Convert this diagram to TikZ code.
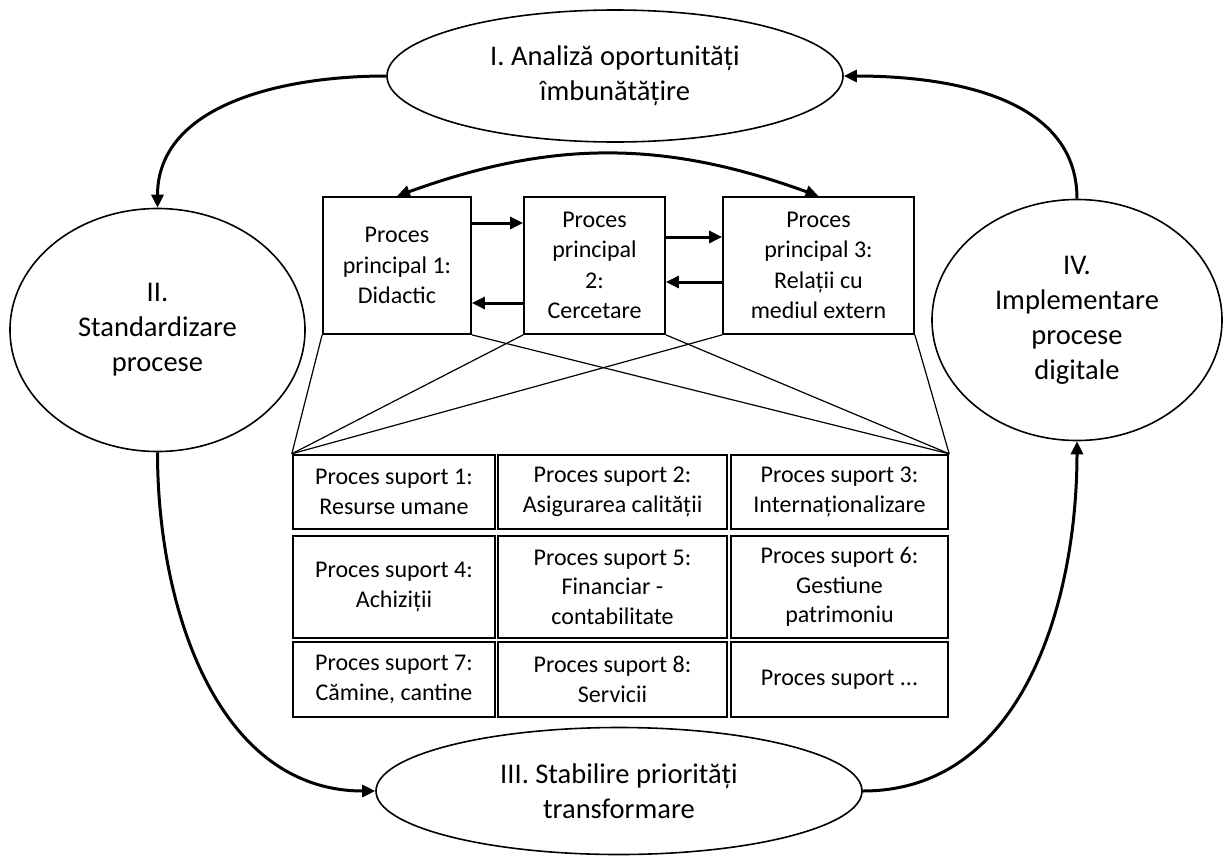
\documentclass[tikz,border=0pt]{standalone}
\usepackage{fontspec}
\setmainfont{Carlito}
\usetikzlibrary{shapes,arrows,positioning,calc,arrows.meta}

\begin{document}
\begin{tikzpicture}[x=1pt,y=1pt,
    phase/.style={draw,ellipse,line width=1.6pt,inner sep=0pt,align=center,font=\fontsize{28.5}{35}\selectfont},
    mainproc/.style={draw,rectangle,line width=1.8pt,inner sep=0pt,align=center,minimum height=137pt,font=\fontsize{24}{30.5}\selectfont},
    supproc/.style={draw,rectangle,line width=2.4pt,inner sep=0pt,align=center,font=\fontsize{24}{29.5}\selectfont},
    flow/.style={line width=3pt,-{Triangle[length=13pt,width=12pt]}},
    link/.style={line width=1.2pt}]

    \useasboundingbox (0,0) rectangle (1224,-857);

    % Phases of the cycle
    \node[phase,minimum width=456pt,minimum height=132pt] (ph1) at (615,-76) {I. Analiză oportunități\\îmbunătățire};
    \node[phase,minimum width=295pt,minimum height=243pt] (ph2) at (157.5,-330) {II.\\Standardizare\\procese};
    \node[phase,minimum width=486pt,minimum height=127pt] (ph3) at (619,-791) {III. Stabilire priorități\\transformare};
    \node[phase,minimum width=290pt,minimum height=241pt] (ph4) at (1077,-320) {IV.\\Implementare\\procese\\digitale};

    \draw[flow] (ph1.west) to[out=180,in=90] (ph2.north);
    \draw[flow] (ph2.south) to[out=-90,in=180] (ph3.west);
    \draw[flow] (ph3.east) to[out=0,in=-90] (ph4.south);
    \draw[flow] (ph4.north) to[out=90,in=0] (ph1.east);

    % Main processes
    \node[mainproc,minimum width=148pt] (pp1) at (397,-265.5) {Proces\\principal 1:\\Didactic};
    \node[mainproc,minimum width=141pt] (pp2) at (594.5,-265.5) {Proces\\principal\\2:\\Cercetare};
    \node[mainproc,minimum width=191pt] (pp3) at (818.5,-265.5) {Proces\\principal 3:\\Relații cu\\mediul extern};

    \draw[line width=3pt,{Triangle[length=13pt,width=12pt]}-{Triangle[length=13pt,width=12pt]}] (pp1.north) to[bend left=20] (pp3.north);
    \draw[flow] ([yshift=42.5pt]pp1.east) -- ([yshift=42.5pt]pp2.west);
    \draw[flow] ([yshift=-37.5pt]pp2.west) -- ([yshift=-37.5pt]pp1.east);
    \draw[flow] ([yshift=28.5pt]pp2.east) -- ([yshift=28.5pt]pp3.west);
    \draw[flow] ([yshift=-16.5pt]pp3.west) -- ([yshift=-16.5pt]pp2.east);

    % Support processes
    \node[supproc,minimum width=202pt,minimum height=74pt] (sp1) at (394,-492) {Proces suport 1:\\Resurse umane};
    \node[supproc,minimum width=229pt,minimum height=74pt] (sp2) at (612.5,-492) {Proces suport 2:\\Asigurarea calității};
    \node[supproc,minimum width=217pt,minimum height=74pt] (sp3) at (839.5,-492) {Proces suport 3:\\Internaționalizare};
    \node[supproc,minimum width=202pt,minimum height=102pt] (sp4) at (394,-587) {Proces suport 4:\\Achiziții};
    \node[supproc,minimum width=229pt,minimum height=102pt] (sp5) at (612.5,-587) {Proces suport 5:\\Financiar -\\contabilitate};
    \node[supproc,minimum width=217pt,minimum height=102pt] (sp6) at (839.5,-587) {Proces suport 6:\\Gestiune\\patrimoniu};
    \node[supproc,minimum width=202pt,minimum height=75pt] (sp7) at (394,-679.5) {Proces suport 7:\\Cămine, cantine};
    \node[supproc,minimum width=229pt,minimum height=75pt] (sp8) at (612.5,-679.5) {Proces suport 8:\\Servicii};
    \node[supproc,minimum width=217pt,minimum height=75pt] (sp9) at (839.5,-679.5) {Proces suport ...};

    % Funnel from main to support
    \foreach \p in {pp1,pp2,pp3} {
        \draw[link] (sp1.north west) -- (\p.south west);
        \draw[link] (sp3.north east) -- (\p.south east);
    }
\end{tikzpicture}
\end{document}
